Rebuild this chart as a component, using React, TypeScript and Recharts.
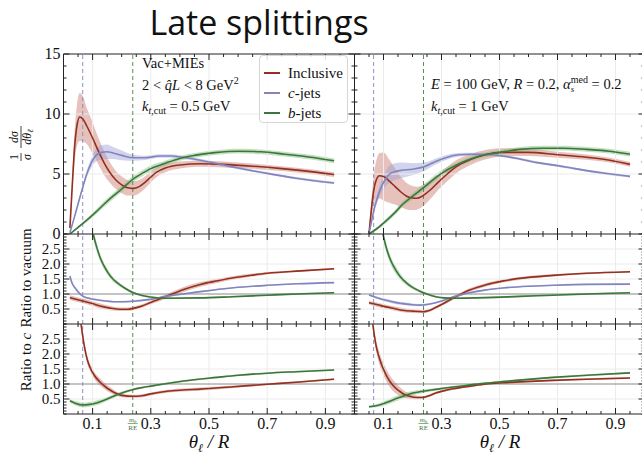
import React from 'react';
import { ComposedChart, Line, Area, XAxis, YAxis, ReferenceLine, Legend } from 'recharts';

type Pt = [number, number, number]; // [theta/R, value, band half-width]

// ---------- data ----------
const topLeftInclusive: Pt[] = [
  [0.022, 0.5, 0.3], [0.03, 4.0, 0.8], [0.038, 7.2, 1.3], [0.046, 9.0, 1.7], [0.056, 9.75, 2.0],
  [0.066, 9.6, 1.9], [0.08, 9.0, 1.5], [0.1, 8.0, 1.3], [0.12, 6.9, 1.1], [0.14, 5.9, 1.0],
  [0.16, 5.1, 0.85], [0.18, 4.5, 0.75], [0.2, 4.1, 0.7], [0.22, 3.85, 0.65], [0.24, 3.8, 0.6],
  [0.26, 3.95, 0.55], [0.28, 4.3, 0.5], [0.3, 4.75, 0.45], [0.32, 5.15, 0.4], [0.35, 5.5, 0.35],
  [0.4, 5.75, 0.3], [0.47, 5.85, 0.25], [0.55, 5.8, 0.25], [0.65, 5.65, 0.22], [0.75, 5.45, 0.2],
  [0.85, 5.2, 0.2], [0.93, 4.95, 0.2],
];
const topLeftC: Pt[] = [
  [0.022, 0.1, 0.05], [0.035, 1.2, 0.1], [0.05, 2.5, 0.15], [0.065, 3.8, 0.2], [0.08, 5.0, 0.3],
  [0.095, 5.9, 0.4], [0.11, 6.5, 0.5], [0.13, 6.8, 0.6], [0.15, 6.85, 0.6], [0.17, 6.75, 0.5],
  [0.2, 6.55, 0.4], [0.24, 6.35, 0.25], [0.28, 6.35, 0.18], [0.33, 6.5, 0.15], [0.37, 6.5, 0.15],
  [0.42, 6.35, 0.12], [0.5, 6.0, 0.12], [0.6, 5.5, 0.1], [0.7, 5.05, 0.1], [0.8, 4.65, 0.1],
  [0.93, 4.25, 0.1],
];
const topLeftB: Pt[] = [
  [0.022, 0, 0.05], [0.05, 0.55, 0.1], [0.08, 1.15, 0.15], [0.11, 1.8, 0.2], [0.14, 2.5, 0.22],
  [0.17, 3.15, 0.25], [0.2, 3.75, 0.25], [0.24, 4.6, 0.25], [0.27, 5.05, 0.25], [0.3, 5.45, 0.25],
  [0.35, 5.9, 0.22], [0.4, 6.3, 0.2], [0.45, 6.55, 0.2], [0.52, 6.78, 0.2], [0.6, 6.9, 0.2],
  [0.68, 6.85, 0.2], [0.76, 6.65, 0.2], [0.85, 6.4, 0.2], [0.93, 6.1, 0.2],
];
const topRightInclusive: Pt[] = [
  [0.05, 0.05, 0.1], [0.058, 2.0, 0.7], [0.066, 3.6, 1.2], [0.075, 4.5, 1.6], [0.086, 4.85, 1.9],
  [0.1, 4.8, 2.0], [0.12, 4.4, 1.8], [0.14, 3.95, 1.5], [0.16, 3.5, 1.25], [0.18, 3.15, 1.1],
  [0.2, 3.0, 1.0], [0.215, 2.98, 0.95], [0.23, 3.1, 0.9], [0.245, 3.35, 0.85], [0.265, 3.75, 0.75],
  [0.29, 4.35, 0.65], [0.32, 5.0, 0.6], [0.35, 5.6, 0.55], [0.4, 6.2, 0.45], [0.45, 6.6, 0.4],
  [0.51, 6.8, 0.35], [0.6, 6.8, 0.3], [0.7, 6.6, 0.25], [0.8, 6.4, 0.22], [0.88, 6.15, 0.2],
  [0.95, 5.8, 0.2],
];
const topRightC: Pt[] = [
  [0.05, 0.05, 0.05], [0.06, 1.2, 0.2], [0.069, 2.2, 0.3], [0.08, 3.1, 0.4], [0.092, 3.9, 0.5],
  [0.105, 4.5, 0.6], [0.121, 5.0, 0.7], [0.14, 5.2, 0.7], [0.16, 5.3, 0.65], [0.2, 5.4, 0.5],
  [0.24, 5.6, 0.35], [0.28, 6.05, 0.25], [0.32, 6.4, 0.2], [0.36, 6.6, 0.15], [0.4, 6.65, 0.12],
  [0.45, 6.62, 0.12], [0.51, 6.5, 0.1], [0.57, 6.25, 0.1], [0.63, 5.95, 0.1], [0.7, 5.7, 0.1],
  [0.76, 5.45, 0.1], [0.85, 5.1, 0.1], [0.95, 4.8, 0.1],
];
const topRightB: Pt[] = [
  [0.05, 0, 0.05], [0.08, 0.5, 0.12], [0.109, 1.1, 0.18], [0.14, 1.8, 0.2], [0.167, 2.5, 0.22],
  [0.195, 3.05, 0.25], [0.224, 3.6, 0.25], [0.25, 4.1, 0.25], [0.28, 4.7, 0.25], [0.31, 5.2, 0.25],
  [0.34, 5.6, 0.22], [0.37, 5.95, 0.2], [0.4, 6.25, 0.2], [0.45, 6.6, 0.2], [0.5, 6.8, 0.2],
  [0.57, 7.05, 0.2], [0.65, 7.15, 0.2], [0.72, 7.15, 0.2], [0.8, 7.05, 0.2], [0.88, 6.9, 0.2],
  [0.95, 6.65, 0.2],
];
const midLeftInclusive: Pt[] = [
  [0.022, 0.88, 0.08], [0.066, 0.77, 0.08], [0.1, 0.68, 0.08], [0.126, 0.6, 0.08], [0.16, 0.53, 0.07],
  [0.195, 0.49, 0.06], [0.22, 0.49, 0.06], [0.24, 0.52, 0.06], [0.27, 0.6, 0.06], [0.3, 0.72, 0.06],
  [0.33, 0.83, 0.07], [0.356, 0.93, 0.07], [0.413, 1.15, 0.08], [0.47, 1.32, 0.08], [0.53, 1.44, 0.07],
  [0.585, 1.54, 0.06], [0.65, 1.63, 0.05], [0.7, 1.69, 0.04], [0.815, 1.77, 0.03], [0.93, 1.84, 0.03],
];
const midLeftC: Pt[] = [
  [0.022, 1.6, 0.03], [0.03, 1.35, 0.03], [0.04, 1.2, 0.03], [0.055, 1.02, 0.03], [0.066, 0.93, 0.03],
  [0.09, 0.85, 0.03], [0.126, 0.79, 0.03], [0.184, 0.74, 0.03], [0.24, 0.76, 0.03], [0.298, 0.82, 0.03],
  [0.356, 0.93, 0.03], [0.41, 1.0, 0.03], [0.47, 1.08, 0.03], [0.585, 1.21, 0.02], [0.7, 1.29, 0.02],
  [0.8, 1.34, 0.02], [0.93, 1.38, 0.02],
];
const midLeftB: Pt[] = [
  [0.102, 3.0, 0.15], [0.11, 2.7, 0.15], [0.126, 2.21, 0.12], [0.149, 1.77, 0.1], [0.165, 1.55, 0.08],
  [0.184, 1.38, 0.07], [0.21, 1.2, 0.05], [0.24, 1.04, 0.04], [0.27, 0.95, 0.03], [0.298, 0.9, 0.03],
  [0.356, 0.86, 0.03], [0.47, 0.87, 0.03], [0.58, 0.91, 0.03], [0.7, 0.96, 0.03], [0.8, 1.0, 0.03],
  [0.93, 1.04, 0.03],
];
const midRightInclusive: Pt[] = [
  [0.05, 0.71, 0.06], [0.08, 0.64, 0.07], [0.109, 0.57, 0.07], [0.14, 0.51, 0.07], [0.167, 0.46, 0.07],
  [0.2, 0.43, 0.06], [0.236, 0.41, 0.05], [0.26, 0.46, 0.05], [0.28, 0.55, 0.05], [0.31, 0.7, 0.05],
  [0.339, 0.86, 0.06], [0.37, 1.01, 0.06], [0.397, 1.13, 0.06], [0.454, 1.31, 0.06], [0.51, 1.43, 0.05],
  [0.569, 1.52, 0.05], [0.684, 1.62, 0.04], [0.8, 1.69, 0.03], [0.95, 1.74, 0.03],
];
const midRightC: Pt[] = [
  [0.05, 0.97, 0.03], [0.08, 0.87, 0.04], [0.109, 0.79, 0.05], [0.14, 0.72, 0.05], [0.167, 0.68, 0.05],
  [0.2, 0.64, 0.04], [0.224, 0.63, 0.04], [0.25, 0.65, 0.03], [0.28, 0.71, 0.03], [0.31, 0.8, 0.03],
  [0.339, 0.9, 0.03], [0.37, 0.98, 0.03], [0.397, 1.04, 0.03], [0.45, 1.13, 0.02], [0.511, 1.2, 0.02],
  [0.6, 1.26, 0.02], [0.684, 1.29, 0.02], [0.8, 1.32, 0.02], [0.95, 1.33, 0.02],
];
const midRightB: Pt[] = [
  [0.098, 3.0, 0.18], [0.108, 2.6, 0.16], [0.121, 2.21, 0.14], [0.144, 1.77, 0.12], [0.16, 1.55, 0.1],
  [0.178, 1.38, 0.08], [0.2, 1.22, 0.06], [0.224, 1.1, 0.05], [0.25, 1.0, 0.04], [0.28, 0.91, 0.03],
  [0.31, 0.87, 0.03], [0.339, 0.86, 0.03], [0.454, 0.88, 0.03], [0.57, 0.92, 0.03], [0.684, 0.96, 0.03],
  [0.8, 1.0, 0.03], [0.95, 1.04, 0.03],
];
const botLeftInclusive: Pt[] = [
  [0.06, 3.0, 0.15], [0.066, 2.6, 0.15], [0.074, 2.14, 0.14], [0.082, 1.8, 0.13], [0.091, 1.56, 0.12],
  [0.105, 1.3, 0.12], [0.126, 1.06, 0.12], [0.145, 0.9, 0.1], [0.16, 0.8, 0.09], [0.18, 0.69, 0.07],
  [0.2, 0.62, 0.06], [0.24, 0.59, 0.05], [0.27, 0.61, 0.05], [0.3, 0.67, 0.05], [0.356, 0.76, 0.05],
  [0.41, 0.8, 0.05], [0.47, 0.83, 0.05], [0.585, 0.91, 0.04], [0.7, 0.99, 0.03], [0.8, 1.06, 0.03],
  [0.93, 1.16, 0.03],
];
const botLeftB: Pt[] = [
  [0.022, 0.44, 0.06], [0.04, 0.36, 0.07], [0.066, 0.3, 0.08], [0.09, 0.32, 0.08], [0.11, 0.36, 0.08],
  [0.126, 0.41, 0.08], [0.15, 0.5, 0.07], [0.184, 0.64, 0.06], [0.21, 0.73, 0.05], [0.24, 0.82, 0.04],
  [0.27, 0.88, 0.03], [0.3, 0.93, 0.03], [0.35, 1.01, 0.03], [0.413, 1.1, 0.03], [0.528, 1.22, 0.03],
  [0.6, 1.29, 0.03], [0.7, 1.36, 0.03], [0.8, 1.41, 0.03], [0.93, 1.47, 0.03],
];
const botRightInclusive: Pt[] = [
  [0.063, 3.0, 0.15], [0.068, 2.65, 0.17], [0.075, 2.25, 0.18], [0.083, 1.95, 0.2], [0.092, 1.68, 0.2],
  [0.105, 1.38, 0.2], [0.121, 1.1, 0.2], [0.14, 0.88, 0.18], [0.155, 0.76, 0.15], [0.17, 0.66, 0.12],
  [0.19, 0.59, 0.09], [0.215, 0.55, 0.06], [0.236, 0.55, 0.05], [0.26, 0.62, 0.04], [0.28, 0.7, 0.04],
  [0.31, 0.78, 0.04], [0.339, 0.84, 0.04], [0.4, 0.93, 0.03], [0.454, 1.0, 0.03], [0.51, 1.04, 0.03],
  [0.569, 1.07, 0.03], [0.684, 1.12, 0.03], [0.8, 1.16, 0.03], [0.95, 1.2, 0.03],
];
const botRightB: Pt[] = [
  [0.05, 0.24, 0.04], [0.086, 0.3, 0.06], [0.11, 0.38, 0.08], [0.132, 0.47, 0.09], [0.16, 0.57, 0.09],
  [0.19, 0.67, 0.08], [0.236, 0.76, 0.06], [0.28, 0.82, 0.04], [0.339, 0.9, 0.03], [0.4, 0.97, 0.03],
  [0.454, 1.03, 0.03], [0.51, 1.08, 0.03], [0.569, 1.13, 0.03], [0.684, 1.22, 0.03], [0.8, 1.29, 0.03],
  [0.95, 1.37, 0.03],
];

// ---------- axes ----------
const xMajorTicks = [0.1, 0.3, 0.5, 0.7, 0.9];
const xTickLabels = ['0.1', '0.3', '0.5', '0.7', '0.9'];
const xMinorTicks = [0.05, 0.15, 0.2, 0.25, 0.35, 0.4, 0.45, 0.55, 0.6, 0.65, 0.75, 0.8, 0.85, 0.95];
const deadConeC = 0.066; // blue dashed line
const deadConeB = 0.238; // green dashed line, labelled m_b / RE
const topYMajor = [0, 5, 10, 15];
const topYLabels = ['0', '5', '10', '15'];
const topYMinor = [1, 2, 3, 4, 6, 7, 8, 9, 11, 12, 13, 14];
const ratioYMajor = [0.5, 1.0, 1.5, 2.0, 2.5];
const ratioYLabels = ['0.5', '1.0', '1.5', '2.0', '2.5'];
const ratioYMinor = [0, 0.1, 0.2, 0.3, 0.4, 0.6, 0.7, 0.8, 0.9, 1.1, 1.2, 1.3, 1.4, 1.6, 1.7, 1.8, 1.9, 2.1, 2.2, 2.3, 2.4, 2.6, 2.7, 2.8, 2.9, 3.0];
const seriesNames = ['Inclusive', 'c-jets', 'b-jets'];

// ---------- style ----------
const RED = '#93301f';
const RED_BAND = '#c9766b';
const BLUE = '#8285bd';
const BLUE_BAND = '#9c9fd8';
const GREEN = '#3d763b';
const GREEN_BAND = '#7dbb77';
const AXIS = '#222';
const SERIF = "'Liberation Serif', 'DejaVu Serif', serif";

const COLS = [
  { chartLeft: 0, yW: 63.5, plotW: 291 },
  { chartLeft: 344, yW: 10.5, plotW: 290 },
];
const ROWS = [
  { plotTop: 53.5, plotH: 180, domain: [0, 15] as [number, number], major: topYMajor, labels: topYLabels, minor: topYMinor, fs: 16 },
  { plotTop: 233.5, plotH: 90, domain: [0, 3] as [number, number], major: ratioYMajor, labels: ratioYLabels, minor: ratioYMinor, fs: 15 },
  { plotTop: 323.5, plotH: 90, domain: [0, 3] as [number, number], major: ratioYMajor, labels: ratioYLabels, minor: ratioYMinor, fs: 15 },
];
const MT = 10;
const MR = 2;
const XH = 40;

const toRows = (pts: Pt[]) => pts.map(([x, y, w]) => ({ x, y, band: [y - w, y + w] }));
const idx = (arr: number[], v: number) => arr.findIndex((a) => Math.abs(a - v) < 1e-9);

const renderLegend = (props: any) => {
  const items = (props.payload || []).filter((p: any) => p.type !== 'none' && seriesNames.includes(p.value));
  items.sort((a: any, b: any) => seriesNames.indexOf(a.value) - seriesNames.indexOf(b.value));
  return (
    <div
      style={{
        width: 89, height: 68, boxSizing: 'border-box', border: '1px solid #d6d6d6', borderRadius: 4,
        background: 'rgba(255,255,255,0.85)', padding: '7px 0 0 4px', fontFamily: SERIF, fontSize: 15, color: '#111',
      }}
    >
      {items.map((it: any) => {
        const name: string = it.value;
        const italic = name.indexOf('-') === 1;
        return (
          <div key={name} style={{ display: 'flex', alignItems: 'center', height: 20 }}>
            <span style={{ display: 'inline-block', width: 16, height: 0, borderTop: `2px solid ${it.color}`, marginRight: 8 }} />
            <span>
              {italic ? (<><i>{name[0]}</i>{name.slice(1)}</>) : name}
            </span>
          </div>
        );
      })}
    </div>
  );
};

interface PanelProps {
  col: number;
  row: number;
  inclusive: Pt[];
  cjets?: Pt[];
  bjets: Pt[];
  legend?: boolean;
}

function Panel({ col, row, inclusive, cjets, bjets, legend }: PanelProps) {
  const C = COLS[col];
  const R = ROWS[row];
  const width = C.yW + C.plotW + MR;
  const height = MT + R.plotH + XH;
  const pl = C.yW;
  const pr = C.yW + C.plotW;
  const pt = MT;
  const pb = MT + R.plotH;
  const bottomRow = row === 2;
  const xTicks = [...xMinorTicks, ...xMajorTicks, ...(bottomRow ? [deadConeB] : [])].sort((a, b) => a - b);
  const yTicks = [...R.major, ...R.minor].sort((a, b) => a - b);

  const xTick = (props: any) => {
    const x = props.x;
    const v = props.payload.value;
    if (Math.abs(v - deadConeB) < 1e-9) {
      return (
        <g fontFamily={SERIF} fill={GREEN}>
          <text x={x} y={pb + 7.5} fontSize={7} textAnchor="middle" fontStyle="italic">m<tspan fontSize={5} dy={1}>b</tspan></text>
          <line x1={x - 5} x2={x + 5} y1={pb + 9.5} y2={pb + 9.5} stroke={GREEN} strokeWidth={0.6} />
          <text x={x} y={pb + 16} fontSize={7} textAnchor="middle">RE</text>
        </g>
      );
    }
    const mi = idx(xMajorTicks, v);
    const len = mi >= 0 ? 6 : 3;
    return (
      <g>
        <line x1={x} x2={x} y1={pb} y2={pb - len} stroke={AXIS} strokeWidth={1} />
        <line x1={x} x2={x} y1={pt} y2={pt + len} stroke={AXIS} strokeWidth={1} />
        {bottomRow && mi >= 0 && (
          <text x={x} y={pb + 15} textAnchor="middle" fontFamily={SERIF} fontSize={16} fill="#111">{xTickLabels[mi]}</text>
        )}
      </g>
    );
  };

  const yTick = (props: any) => {
    const y = props.y;
    const v = props.payload.value;
    const mi = idx(R.major, v);
    const len = mi >= 0 ? 6 : 3;
    return (
      <g>
        <line x1={pl} x2={pl + len} y1={y} y2={y} stroke={AXIS} strokeWidth={1} />
        <line x1={pr - len} x2={pr} y1={y} y2={y} stroke={AXIS} strokeWidth={1} />
        {col === 0 && mi >= 0 && (
          <text x={pl - 3} y={y} dy="0.34em" textAnchor="end" fontFamily={SERIF} fontSize={R.fs} fill="#111">{R.labels[mi]}</text>
        )}
      </g>
    );
  };

  const gridY = R.major.filter((v) => v > R.domain[0] && v < R.domain[1] && (row === 0 || v !== 1));
  const sets = [
    { name: 'Inclusive', pts: inclusive, color: RED, band: RED_BAND },
    ...(cjets ? [{ name: 'c-jets', pts: cjets, color: BLUE, band: BLUE_BAND }] : []),
    { name: 'b-jets', pts: bjets, color: GREEN, band: GREEN_BAND },
  ];

  return (
    <div style={{ position: 'absolute', left: C.chartLeft, top: R.plotTop - MT, width, height }}>
      <ComposedChart width={width} height={height} margin={{ top: MT, right: MR, bottom: 0, left: 0 }}>
        <XAxis
          dataKey="x" type="number" domain={[0, 1]} allowDataOverflow ticks={xTicks} interval={0}
          height={XH} tickLine={false} tick={xTick} axisLine={{ stroke: AXIS, strokeWidth: 1 }}
        />
        <YAxis
          type="number" domain={R.domain} allowDataOverflow ticks={yTicks} interval={0}
          width={C.yW} tickLine={false} tick={yTick} axisLine={{ stroke: AXIS, strokeWidth: 1 }}
        />
        {xMajorTicks.map((v) => (
          <ReferenceLine key={'gx' + v} x={v} stroke="#ebebeb" strokeWidth={1} />
        ))}
        {gridY.map((v) => (
          <ReferenceLine key={'gy' + v} y={v} stroke="#ebebeb" strokeWidth={1} />
        ))}
        {row > 0 && <ReferenceLine key="one" y={1} stroke="#8a8a8a" strokeWidth={1.2} />}
        {row === 0 && <ReferenceLine key="topedge" y={15} stroke={AXIS} strokeWidth={1} />}
        <ReferenceLine key="dcC" x={deadConeC} stroke="#8d90c4" strokeWidth={1} strokeDasharray="4 3" />
        <ReferenceLine key="dcB" x={deadConeB} stroke="#5a8c57" strokeWidth={1} strokeDasharray="4 3" />
        {sets.map((s) => (
          <Area
            key={'a' + s.name} data={toRows(s.pts)} dataKey="band" type="monotone" stroke="none"
            fill={s.band} fillOpacity={0.45} isAnimationActive={false} legendType="none" activeDot={false}
          />
        ))}
        {sets.map((s) => (
          <Line
            key={'l' + s.name} name={s.name} data={toRows(s.pts)} dataKey="y" type="monotone" stroke={s.color}
            strokeWidth={1.6} dot={false} activeDot={false} isAnimationActive={false}
          />
        ))}
        {legend && (
          <Legend
            layout="vertical" align="center" verticalAlign="middle" content={renderLegend}
            wrapperStyle={{ position: 'absolute', left: 259, top: 55 - (R.plotTop - MT), width: 89, height: 68 }}
          />
        )}
      </ComposedChart>
    </div>
  );
}

export default function App() {
  return (
    <div style={{ position: 'absolute', left: 0, top: 0, width: 642, height: 454, overflow: 'hidden', background: '#fff' }}>
      <Panel col={0} row={0} inclusive={topLeftInclusive} cjets={topLeftC} bjets={topLeftB} legend />
      <Panel col={1} row={0} inclusive={topRightInclusive} cjets={topRightC} bjets={topRightB} />
      <Panel col={0} row={1} inclusive={midLeftInclusive} cjets={midLeftC} bjets={midLeftB} />
      <Panel col={1} row={1} inclusive={midRightInclusive} cjets={midRightC} bjets={midRightB} />
      <Panel col={0} row={2} inclusive={botLeftInclusive} bjets={botLeftB} />
      <Panel col={1} row={2} inclusive={botRightInclusive} bjets={botRightB} />
      <svg width={642} height={454} style={{ position: 'absolute', left: 0, top: 0, pointerEvents: 'none' }}>
        <text x={259} y={35} textAnchor="middle" fontFamily="'Open Sans', sans-serif" fontSize={34} fill="#111">Late splittings</text>
        <g fontFamily={SERIF} fontSize={14.5} fill="#111">
          <text x={142} y={68}>Vac+MIEs</text>
          <text x={142} y={90}>2 &lt; <tspan fontStyle="italic">q̂L</tspan> &lt; 8 GeV<tspan dy={-6} fontSize={10}>2</tspan></text>
          <text x={142} y={111}>
            <tspan fontStyle="italic">k</tspan>
            <tspan dy={3} fontSize={10}><tspan fontStyle="italic">t</tspan>,cut</tspan>
            <tspan dy={-3}> = 0.5 GeV</tspan>
          </text>
          <text x={431} y={89}>
            <tspan fontStyle="italic">E</tspan> = 100 GeV, <tspan fontStyle="italic">R</tspan> = 0.2, <tspan fontStyle="italic">α</tspan>
            <tspan dy={3} fontSize={9} fontStyle="italic">s</tspan>
            <tspan dx={-3.5} dy={-9} fontSize={10}>med</tspan>
            <tspan dy={6}> = 0.2</tspan>
          </text>
          <text x={431} y={111}>
            <tspan fontStyle="italic">k</tspan>
            <tspan dy={3} fontSize={10}><tspan fontStyle="italic">t</tspan>,cut</tspan>
            <tspan dy={-3}> = 1 GeV</tspan>
          </text>
        </g>
        <g transform="translate(21,143) rotate(-90)" fontFamily={SERIF} fontSize={12} fill="#111">
          <text x={-14} y={-3} textAnchor="middle">1</text>
          <line x1={-18} x2={-10} y1={0} y2={0} stroke="#111" strokeWidth={0.8} />
          <text x={-14} y={10} textAnchor="middle" fontStyle="italic">σ</text>
          <text x={6} y={-3} textAnchor="middle" fontStyle="italic">dσ</text>
          <line x1={-5} x2={17} y1={0} y2={0} stroke="#111" strokeWidth={0.8} />
          <text x={6} y={10} textAnchor="middle" fontStyle="italic">dθ<tspan fontSize={8} dy={2}>ℓ</tspan></text>
        </g>
        <text transform="translate(31,278) rotate(-90)" textAnchor="middle" fontFamily={SERIF} fontSize={15} fill="#111">Ratio to vacuum</text>
        <text transform="translate(31,362) rotate(-90)" textAnchor="middle" fontFamily={SERIF} fontSize={15} fill="#111">Ratio to <tspan fontStyle="italic">c</tspan></text>
        <text x={209} y={448} textAnchor="middle" fontFamily={SERIF} fontSize={19} fontStyle="italic" fill="#111">θ<tspan dy={4} fontSize={12}>ℓ</tspan><tspan dy={-4}> / R</tspan></text>
        <text x={500} y={448} textAnchor="middle" fontFamily={SERIF} fontSize={19} fontStyle="italic" fill="#111">θ<tspan dy={4} fontSize={12}>ℓ</tspan><tspan dy={-4}> / R</tspan></text>
      </svg>
    </div>
  );
}
